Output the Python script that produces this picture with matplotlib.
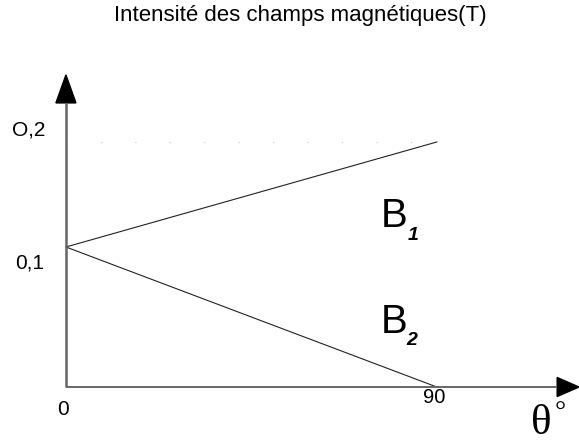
import matplotlib.pyplot as plt

# values
theta = [0, 90]
b1 = [0.1, 0.175]
b2 = [0.1, 0.0]
y_labels = ['0,1', 'O,2']
x_labels = ['0', '90']
title = 'Intensité des champs magnétiques(T)'

plt.rcParams['font.family'] = ['Liberation Sans', 'DejaVu Sans']

W, H = 579, 444
fig = plt.figure(figsize=(W / 100, H / 100), dpi=100)
ax = fig.add_axes([0, 0, 1, 1])
ax.set_xlim(-16, 124.5)
ax.set_ylim(-0.0407, 0.2764)
ax.axis('off')


def px(x, y):
    # pixel position -> figure fraction
    return x / W, 1 - y / H


# faint dotted guide line
ax.plot([0, 90], [b1[1], b1[1]], color='#c8c8c8', lw=0.8,
        linestyle=(0, (1, 30)))

ax.plot(theta, b1, color='#222222', lw=0.8)
ax.plot(theta, b2, color='#222222', lw=0.8)

# axes lines with arrow heads
ax.plot([0, 0], [0, 0.203], color='#666666', lw=1.8, solid_capstyle='butt')
ax.plot([0, 119.2], [0, 0], color='#666666', lw=1.4, solid_capstyle='butt')
ax.fill([-2.43, 2.43, 0], [0.2029, 0.2029, 0.2229], color='black',
        clip_on=False)
ax.fill([119.2, 119.2, 124.5], [0.0068, -0.0068, 0], color='black',
        clip_on=False)

fig.text(*px(300, 15), title, ha='center', va='center', fontsize=16)

fig.text(*px(30, 263), y_labels[0], ha='center', va='center', fontsize=15)
fig.text(*px(29, 130), y_labels[1], ha='center', va='center', fontsize=15)
fig.text(*px(63, 409), x_labels[0], ha='center', va='center', fontsize=15)
fig.text(*px(434, 397), x_labels[1], ha='center', va='center', fontsize=14.5)

fig.text(*px(381, 227), 'B', ha='left', va='baseline', fontsize=29)
fig.text(*px(408, 240), '1', ha='left', va='baseline', fontsize=14,
         style='italic', weight='bold')
fig.text(*px(381, 333), 'B', ha='left', va='baseline', fontsize=29)
fig.text(*px(406, 345), '2', ha='left', va='baseline', fontsize=14,
         style='italic', weight='bold')

fig.text(*px(531, 404), 'θ', ha='left', va='top', fontsize=31,
         family='Liberation Serif')
fig.text(*px(555, 401), '°', ha='left', va='top', fontsize=20,
         family='Liberation Serif')

fig.savefig('out.png', dpi=100)
